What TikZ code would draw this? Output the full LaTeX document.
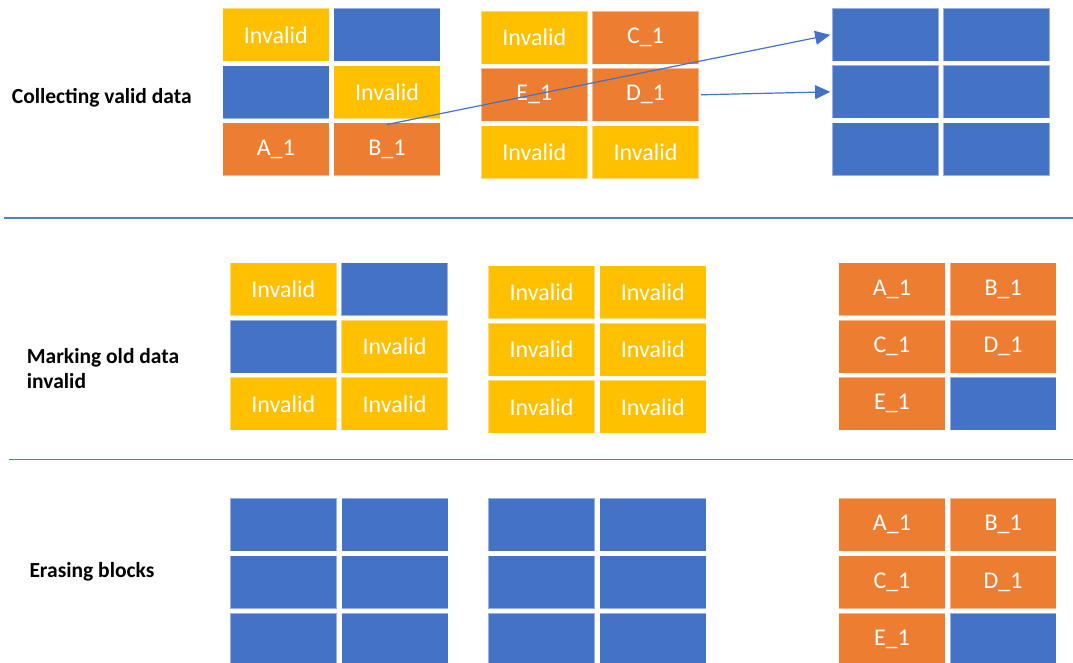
\documentclass[tikz,border=0pt]{standalone}
\usepackage{fontspec}
\setmainfont{Carlito}
\usetikzlibrary{arrows.meta}

\definecolor{blkyellow}{HTML}{FFC000}
\definecolor{blkorange}{HTML}{ED7D31}
\definecolor{blkblue}{HTML}{4472C4}
\definecolor{rulecol}{HTML}{4F81C7}

% A 3x2 grid of flash pages; #1 name prefix, #2/#3 top-left corner,
% #4 six entries colour/text, row by row.
\newcommand\blockgrid[4]{%
  \foreach \tone/\lbl [count=\k from 0] in {#4}{%
    \pgfmathtruncatemacro\cc{mod(\k,2)}%
    \pgfmathtruncatemacro\rr{div(\k,2)}%
    \node[cell, fill=\tone] (#1-\k) at ({#2+\cc*111.2+53.25},{#3+\rr*57.3+26.5}) {\lbl};
  }%
}

\begin{document}
\begin{tikzpicture}[x=1pt,y=-1pt,
  cell/.style={rectangle, minimum width=106.5pt, minimum height=53pt, inner sep=0pt,
    draw=white, draw opacity=0.45, line width=0.8pt, text=white,
    font=\fontsize{24}{29}\selectfont},
  stage/.style={font=\bfseries\fontsize{21.5}{25}\selectfont, align=left, inner sep=0pt},
  divider/.style={draw=rulecol, line width=1.5pt},
  move/.style={draw=blkblue, line width=1.2pt, shorten >=1.5pt,
    -{Triangle[length=15pt,width=14pt]}}]

\useasboundingbox (0,0) rectangle (1073,663);
\clip (0,0) rectangle (1073,663);

% stage titles (base anchor sits on the last line)
\node[stage, anchor=base west] (s1) at (11.7,103.3) {Collecting valid data};
\node[stage, anchor=base west] (s2) at (26.7,388) {Marking old data\\invalid};
\node[stage, anchor=base west] (s3) at (29.3,577) {Erasing blocks};

% stage dividers
\coordinate (d1a) at (4,218);
\coordinate (d1b) at (1073,218);
\coordinate (d2a) at (9,459.5);
\coordinate (d2b) at (1073,459.5);
\draw[divider] (d1a) -- (d1b);
\draw[divider] (d2a) -- (d2b);

% stage 1: collecting valid data
\blockgrid{a1}{222.5}{8.3}{blkyellow/Invalid, blkblue/{}, blkblue/{}, blkyellow/Invalid, blkorange/A\_1, blkorange/B\_1}
\blockgrid{a2}{481}{11}{blkyellow/Invalid, blkorange/C\_1, blkorange/E\_1, blkorange/D\_1, blkyellow/Invalid, blkyellow/Invalid}
\blockgrid{a3}{832}{8}{blkblue/{}, blkblue/{}, blkblue/{}, blkblue/{}, blkblue/{}, blkblue/{}}

% stage 2: marking old data invalid
\blockgrid{b1}{230}{262.7}{blkyellow/Invalid, blkblue/{}, blkblue/{}, blkyellow/Invalid, blkyellow/Invalid, blkyellow/Invalid}
\blockgrid{b2}{488.3}{265.7}{blkyellow/Invalid, blkyellow/Invalid, blkyellow/Invalid, blkyellow/Invalid, blkyellow/Invalid, blkyellow/Invalid}
\blockgrid{b3}{838.7}{262.7}{blkorange/A\_1, blkorange/B\_1, blkorange/C\_1, blkorange/D\_1, blkorange/E\_1, blkblue/{}}

% stage 3: erasing blocks
\blockgrid{c1}{230.3}{498.3}{blkblue/{}, blkblue/{}, blkblue/{}, blkblue/{}, blkblue/{}, blkblue/{}}
\blockgrid{c2}{488.3}{498.3}{blkblue/{}, blkblue/{}, blkblue/{}, blkblue/{}, blkblue/{}, blkblue/{}}
\blockgrid{c3}{838.7}{498.3}{blkorange/A\_1, blkorange/B\_1, blkorange/C\_1, blkorange/D\_1, blkorange/E\_1, blkblue/{}}

% data being moved into the free block
\draw[move] ([yshift=-2pt]a1-5.north) -- (a3-0.west);
\draw[move] ([xshift=2pt]a2-3.east) -- (a3-2.west);
\end{tikzpicture}
\end{document}
